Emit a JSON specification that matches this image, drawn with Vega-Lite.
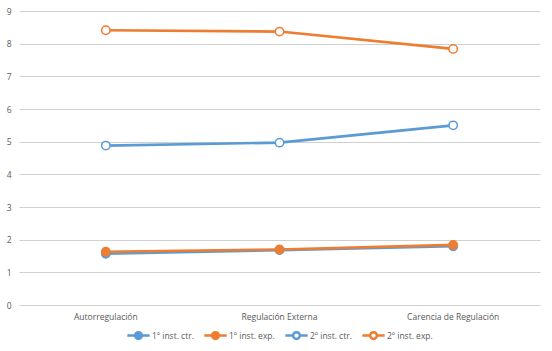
{
  "$schema": "https://vega.github.io/schema/vega-lite/v6.json",
  "width": 552,
  "height": 351,
  "autosize": {"type": "fit", "contains": "padding"},
  "padding": {"left": 6, "top": 7, "right": 12, "bottom": 7},
  "background": "white",
  "data": {
    "values": [
      {"serie": "1º inst. ctr.", "cat": "Autorregulación", "valor": 1.57},
      {"serie": "1º inst. ctr.", "cat": "Regulación Externa", "valor": 1.68},
      {"serie": "1º inst. ctr.", "cat": "Carencia de Regulación", "valor": 1.8},
      {"serie": "1º inst. exp.", "cat": "Autorregulación", "valor": 1.63},
      {"serie": "1º inst. exp.", "cat": "Regulación Externa", "valor": 1.7},
      {"serie": "1º inst. exp.", "cat": "Carencia de Regulación", "valor": 1.84},
      {"serie": "2º inst. ctr.", "cat": "Autorregulación", "valor": 4.88},
      {"serie": "2º inst. ctr.", "cat": "Regulación Externa", "valor": 4.97},
      {"serie": "2º inst. ctr.", "cat": "Carencia de Regulación", "valor": 5.5},
      {"serie": "2º inst. exp.", "cat": "Autorregulación", "valor": 8.41},
      {"serie": "2º inst. exp.", "cat": "Regulación Externa", "valor": 8.37},
      {"serie": "2º inst. exp.", "cat": "Carencia de Regulación", "valor": 7.84}
    ]
  },
  "encoding": {
    "x": {
      "field": "cat", "type": "nominal", "title": null,
      "sort": ["Autorregulación", "Regulación Externa", "Carencia de Regulación"],
      "scale": {"type": "band", "paddingInner": 0, "paddingOuter": 0},
      "axis": {"labelAngle": 0, "domain": false, "ticks": false, "grid": false, "labelPadding": 7}
    },
    "y": {
      "field": "valor", "type": "quantitative", "title": null,
      "scale": {"domain": [0, 9], "nice": false},
      "axis": {"values": [0,1,2,3,4,5,6,7,8,9], "domain": false, "ticks": false, "labelPadding": 8, "gridColor": "#D0D0D0", "gridWidth": 1.2}
    },
    "color": {
      "field": "serie", "type": "nominal", "title": null,
      "scale": {
        "domain": ["1º inst. ctr.", "1º inst. exp.", "2º inst. ctr.", "2º inst. exp."],
        "range": ["#5B9BD5", "#ED7D31", "#5B9BD5", "#ED7D31"]
      },
      "legend": {
        "orient": "bottom", "direction": "horizontal",
        "symbolType": "M-1,0L-0.3,0M0.3,0L1,0M0.3,0A0.3,0.3 0 1,1 -0.3,0A0.3,0.3 0 1,1 0.3,0",
        "symbolSize": 500, "symbolStrokeWidth": 2.5,
        "labelOffset": 1, "columnPadding": 5, "offset": 2, "padding": 0,
        "encode": {
          "symbols": {
            "update": {
              "fill": {"signal": "datum.value == '1º inst. ctr.' ? '#5B9BD5' : datum.value == '1º inst. exp.' ? '#ED7D31' : 'white'"},
              "fillOpacity": {"value": 1}
            }
          }
        }
      }
    },
    "order": {"field": "serie"}
  },
  "layer": [
    {"mark": {"type": "line", "strokeWidth": 2.6}},
    {
      "mark": {"type": "point", "filled": false, "size": 70, "strokeWidth": 1.5, "opacity": 1},
      "encoding": {
        "fill": {
          "field": "serie", "type": "nominal",
          "scale": {
            "domain": ["1º inst. ctr.", "1º inst. exp.", "2º inst. ctr.", "2º inst. exp."],
            "range": ["#5B9BD5", "#ED7D31", "white", "white"]
          },
          "legend": null
        }
      }
    }
  ],
  "config": {
    "font": "Open Sans",
    "view": {"stroke": null},
    "axis": {"labelFont": "Open Sans", "labelFontSize": 8.5, "labelColor": "#595959"},
    "legend": {"labelFont": "Open Sans", "labelFontSize": 8.5, "labelColor": "#595959", "layout": {"bottom": {"anchor": "middle"}}}
  }
}
